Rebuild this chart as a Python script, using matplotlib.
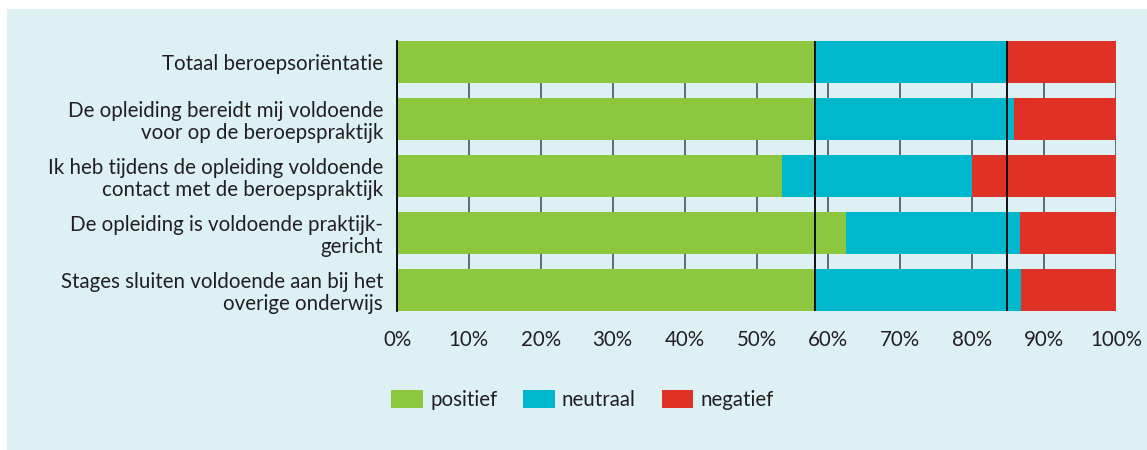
import matplotlib
matplotlib.use("Agg")
import matplotlib.pyplot as plt
from matplotlib.patches import Rectangle, Patch

categories = [
    "Totaal beroepsoriëntatie",
    "De opleiding bereidt mij voldoende\nvoor op de beroepspraktijk",
    "Ik heb tijdens de opleiding voldoende\ncontact met de beroepspraktijk",
    "De opleiding is voldoende praktijk-\ngericht",
    "Stages sluiten voldoende aan bij het\noverige onderwijs",
]
positief = [58.2, 58.2, 53.5, 62.4, 58.2]
neutraal = [26.6, 27.6, 26.5, 24.2, 28.6]
negatief = [15.2, 14.2, 20.0, 13.4, 13.2]
series_names = ["positief", "neutraal", "negatief"]
colors = ["#8dc63f", "#00b8ce", "#e03127"]
tick_values = list(range(0, 101, 10))
tick_labels = [f"{v}%" for v in tick_values]

plt.rcParams['font.family'] = ['Lato', 'DejaVu Sans']
txt_color = "#231f20"
bg = "#ddf0f4"
fs = 14.8

fig = plt.figure(figsize=(11.47, 4.5), dpi=100)
fig.patch.set_facecolor("white")
fig.patches.append(Rectangle((7/1147, 0), 1 - 7/1147, 1 - 9/450, transform=fig.transFigure,
                             facecolor=bg, edgecolor="none", zorder=-10))

ax = fig.add_axes([397/1147, 1 - 311/450, (1116 - 397)/1147, 270/450])
ax.set_facecolor("none")

y = list(range(len(categories)))
h = 42/57
left = [0]*len(y)
for vals, c in zip([positief, neutraal, negatief], colors):
    ax.barh(y, vals, left=left, height=h, color=c, edgecolor="none", zorder=2)
    left = [a + b for a, b in zip(left, vals)]

for v in tick_values:
    ax.axvline(v, color="#4d5558", lw=1.2, zorder=1)

tot_pos = positief[0]
tot_neu = positief[0] + neutraal[0]
ax.axvline(tot_pos, color="black", lw=1.3, zorder=3)
ax.axvline(tot_neu, color="black", lw=1.3, zorder=3)

ax.set_xlim(0, 100)
ax.set_ylim(len(y) - 1 + h/2, -h/2)
ax.set_xticks(tick_values)
ax.set_xticklabels(tick_labels, fontsize=fs, color=txt_color)
ax.set_yticks(y)
ax.set_yticklabels(categories, fontsize=fs, color=txt_color, linespacing=1.15)
ax.tick_params(axis="both", length=0)
ax.tick_params(axis="x", pad=14)
ax.tick_params(axis="y", pad=10)
for s in ["top", "right", "bottom"]:
    ax.spines[s].set_visible(False)
ax.spines["left"].set_color("black")
ax.spines["left"].set_linewidth(1.3)
ax.spines["left"].set_zorder(4)

handles = [Patch(facecolor=c, edgecolor="none", label=n) for c, n in zip(colors, series_names)]
fig.legend(handles=handles, loc="center left", bbox_to_anchor=(391/1147, 1 - 400/450),
           ncol=3, frameon=False, fontsize=fs, handlelength=1.55, handleheight=0.95,
           handletextpad=0.35, columnspacing=1.25, borderpad=0, borderaxespad=0,
           labelcolor=txt_color)

fig.savefig("out.png", dpi=100, facecolor=fig.get_facecolor())
